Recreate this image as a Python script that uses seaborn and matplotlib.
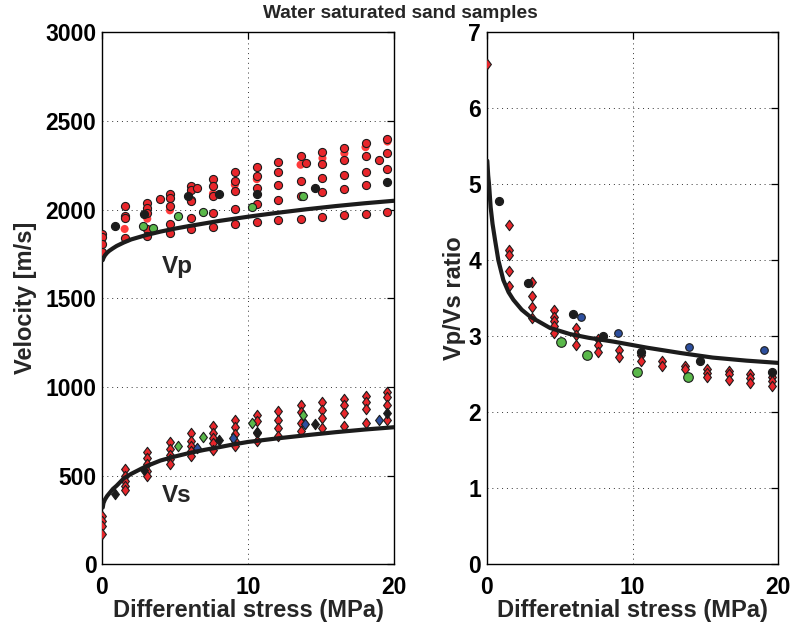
import numpy as np
import pandas as pd
import matplotlib
matplotlib.use("Agg")
import matplotlib.pyplot as plt
from matplotlib.path import Path
import seaborn as sns

# ---------------- data ----------------
stress_cols = [0.0, 1.55, 3.1, 4.65, 6.1, 7.6, 9.1, 10.6, 12.05, 13.6, 15.1, 16.6, 18.05, 19.55]

# Vp (circles) – red samples with edge
vp_red = [
    [1865, 1846, 1809, 1762],
    [2019, 1966, 1953, 1841],
    [2037, 2009, 1981, 1888, 1850],
    [2090, 2066, 2019, 1921, 1869],
    [2135, 2109, 2056, 2047, 1953, 1888],
    [2174, 2131, 2075, 1981, 1903],
    [2210, 2163, 2103, 2006, 1919],
    [2238, 2191, 2122, 2032, 1929],
    [2268, 2210, 2140, 2056, 1940],
    [2300, 2159, 2075, 1949],
    [2324, 2258, 2178, 2097, 1959],
    [2350, 2281, 2197, 2116, 1968],
    [2375, 2300, 2213, 2137, 1978],
    [2397, 2318, 2228, 1987],
]
vp_red_extra_x = [4.0, 6.5, 14.0, 19.0]
vp_red_extra = [2062, 2122, 2262, 2281]
# Vp – bright red without edge
vp_light_x = [0.0, 1.55, 3.1, 4.65, 7.6, 9.1, 10.6, 13.6, 15.1, 16.6, 18.05, 19.55]
vp_light = [1828, 1891, 1949, 1996, 2090, 2140, 2172, 2253, 2290, 2318, 2352, 2384]
vp_black_x = [0.9, 2.9, 5.9, 8.0, 10.6, 14.6, 19.55]
vp_black = [1906, 1976, 2075, 2088, 2088, 2122, 2155]
vp_green_x = [2.8, 3.5, 5.2, 6.9, 10.3, 13.75]
vp_green = [1910, 1897, 1966, 1985, 2015, 2075]

# Vs (diamonds)
vs_red = [
    [271, 242, 214, 171],
    [537, 500, 468, 440, 417],
    [632, 600, 566, 524, 500],
    [688, 650, 618, 594, 566],
    [741, 697, 669, 637, 613],
    [778, 741, 712, 684, 647],
    [812, 773, 737, 697, 669],
    [844, 806, 741, 694],
    [867, 816, 769, 722],
    [897, 859, 797, 750],
    [915, 872, 825, 769],
    [932, 900, 853, 782],
    [951, 915, 876, 797],
    [972, 942, 900, 812],
]
vs_black_x = [0.9, 2.9, 8.0, 10.6, 14.6, 19.55]
vs_black = [396, 530, 699, 744, 791, 853]
vs_green_x = [5.2, 6.9, 10.3, 13.75]
vs_green = [669, 716, 797, 844]
vs_blue_x = [6.5, 9.0, 13.9, 19.0]
vs_blue = [654, 710, 791, 812]

# Vp/Vs ratio
ratio_red = [
    [6.58],
    [4.47, 4.13, 4.07, 3.86, 3.66],
    [3.71, 3.53, 3.39, 3.24],
    [3.34, 3.26, 3.20, 3.13, 3.04],
    [3.11, 3.02, 2.89],
    [2.96, 2.88, 2.80],
    [2.82, 2.73],
    [2.75, 2.67],
    [2.67, 2.61],
    [2.61, 2.57],
    [2.57, 2.52, 2.47],
    [2.54, 2.50, 2.43],
    [2.50, 2.45, 2.39],
    [2.47, 2.41, 2.35],
]
ratio_black_x = [0.87, 2.86, 5.9, 8.0, 10.6, 14.6, 19.6]
ratio_black = [4.78, 3.70, 3.29, 3.00, 2.80, 2.68, 2.53]
ratio_blue_x = [6.5, 9.0, 13.9, 19.0]
ratio_blue = [3.26, 3.04, 2.86, 2.82]
ratio_green_x = [5.1, 6.9, 10.3, 13.8]
ratio_green = [2.93, 2.76, 2.53, 2.46]

# fitted trend curves
fit_x = [0.05, 0.1, 0.2, 0.35, 0.5, 0.75, 1, 1.5, 2, 3, 4, 5, 6, 7, 8, 9, 10, 12, 14, 16, 18, 20]
vp_fit = [1715, 1727, 1742, 1757, 1768, 1782, 1795, 1815, 1832, 1856, 1876, 1893, 1908,
          1922, 1936, 1948, 1960, 1982, 2002, 2020, 2036, 2050]
vs_fit = [320, 345, 365, 385, 400, 425, 443, 485, 510, 552, 585, 608, 628, 645, 660, 676,
          690, 710, 728, 745, 760, 773]
ratio_fit_x = [0.04, 0.1, 0.16, 0.27, 0.4, 0.57, 0.8, 1.14, 1.5, 1.83, 2.4, 2.97, 4.34, 5.7,
               7.0, 8.7, 11.0, 13.3, 15.5, 17.8, 20.0]
ratio_fit = [5.31, 5.12, 5.0, 4.70, 4.48, 4.27, 4.0, 3.74, 3.58, 3.48, 3.35, 3.26, 3.11, 3.03,
             2.98, 2.93, 2.85, 2.78, 2.72, 2.68, 2.65]

title = "Water saturated sand samples"
left_xlabel = "Differential stress (MPa)"
right_xlabel = "Differetnial stress (MPa)"
left_ylabel = "Velocity [m/s]"
right_ylabel = "Vp/Vs ratio"

RED = "#e8262b"
LIGHT = "#ff3b3b"
BLACK = "#1c1c1c"
GREEN = "#5ab84a"
BLUE = "#2d4f9e"

# MATLAB-like diamond: a bit taller than wide
DIAMOND = Path([(0, 1), (0.75, 0), (0, -1), (-0.75, 0), (0, 1)],
               [Path.MOVETO, Path.LINETO, Path.LINETO, Path.LINETO, Path.CLOSEPOLY])


def flatten(cols, groups):
    xs, ys = [], []
    for x, g in zip(cols, groups):
        for v in g:
            xs.append(x)
            ys.append(v)
    return pd.DataFrame({"x": xs, "y": ys})


sns.set_style("white")
FONT = ["Liberation Sans", "DejaVu Sans"]
plt.rcParams["font.family"] = FONT
plt.rcParams["font.weight"] = "bold"

fig = plt.figure(figsize=(7.93, 6.28), dpi=100)
axL = fig.add_axes([102 / 793, 1 - 564.3 / 628, 292 / 793, 532 / 628])
axR = fig.add_axes([486.7 / 793, 1 - 564.3 / 628, 291.6 / 793, 532 / 628])


def style_axes(ax):
    for s in ax.spines.values():
        s.set_color("black")
        s.set_linewidth(1.0)
        s.set_visible(True)
    ax.tick_params(direction="in", length=5, width=0.9, top=True, right=True,
                   labelsize=16.5, colors="black")
    ax.tick_params(axis="x", pad=8.5)
    ax.tick_params(axis="y", pad=4)
    for lab in ax.get_xticklabels() + ax.get_yticklabels():
        lab.set_fontweight("bold")
    ax.grid(True, linestyle=(0, (1, 4)), color="#333333", linewidth=0.7)
    ax.set_axisbelow(True)


CS = 34   # circle size
DS = 56   # diamond size
EW = 0.8

# ---- left: velocities ----
df_vp_red = flatten(stress_cols, vp_red)
df_vp_red = pd.concat([df_vp_red, pd.DataFrame({"x": vp_red_extra_x, "y": vp_red_extra})])
sns.scatterplot(data=pd.DataFrame({"x": vp_light_x, "y": vp_light}), x="x", y="y", ax=axL,
                color=LIGHT, s=CS, marker="o", edgecolor="none", linewidth=0, zorder=3)
sns.scatterplot(data=df_vp_red, x="x", y="y", ax=axL, color=RED, s=CS, marker="o",
                edgecolor=BLACK, linewidth=EW, zorder=3)
sns.scatterplot(data=pd.DataFrame({"x": vp_green_x, "y": vp_green}), x="x", y="y", ax=axL,
                color=GREEN, s=CS, marker="o", edgecolor=BLACK, linewidth=EW, zorder=3)
sns.scatterplot(data=pd.DataFrame({"x": vp_black_x, "y": vp_black}), x="x", y="y", ax=axL,
                color=BLACK, s=CS, marker="o", edgecolor=BLACK, linewidth=EW, zorder=3)

sns.scatterplot(data=flatten(stress_cols, vs_red), x="x", y="y", ax=axL, color=RED, s=DS,
                marker=DIAMOND, edgecolor=BLACK, linewidth=EW, zorder=3)
for xs, ys, c in [(vs_green_x, vs_green, GREEN), (vs_blue_x, vs_blue, BLUE),
                  (vs_black_x, vs_black, BLACK)]:
    sns.scatterplot(data=pd.DataFrame({"x": xs, "y": ys}), x="x", y="y", ax=axL, color=c,
                    s=DS, marker=DIAMOND, edgecolor=BLACK, linewidth=EW, zorder=3)

sns.lineplot(data=pd.DataFrame({"x": fit_x, "y": vp_fit}), x="x", y="y", ax=axL,
             color=BLACK, linewidth=3.0, sort=False, estimator=None, zorder=4)
sns.lineplot(data=pd.DataFrame({"x": fit_x, "y": vs_fit}), x="x", y="y", ax=axL,
             color=BLACK, linewidth=3.0, sort=False, estimator=None, zorder=4)

axL.set_xlim(0, 20)
axL.set_ylim(0, 3000)
axL.set_xticks([0, 10, 20])
axL.set_yticks(np.arange(0, 3001, 500))
style_axes(axL)
axL.text(4.1, 1642, "Vp", fontsize=17.5, fontweight="bold", ha="left", va="baseline")
axL.text(4.1, 353, "Vs", fontsize=17.5, fontweight="bold", ha="left", va="baseline")
axL.set_xlabel(left_xlabel, fontsize=17, fontweight="bold", va="top")
axL.xaxis.set_label_coords(0.5, -0.066)
axL.set_ylabel(left_ylabel, fontsize=17, fontweight="bold", va="center")
axL.yaxis.set_label_coords(-0.262, 0.5)

# ---- right: ratio ----
sns.scatterplot(data=flatten(stress_cols, ratio_red), x="x", y="y", ax=axR, color=RED, s=DS,
                marker=DIAMOND, edgecolor=BLACK, linewidth=EW, zorder=3)
sns.scatterplot(data=pd.DataFrame({"x": ratio_black_x, "y": ratio_black}), x="x", y="y",
                ax=axR, color=BLACK, s=CS, marker="o", edgecolor=BLACK, linewidth=EW, zorder=3)
sns.scatterplot(data=pd.DataFrame({"x": ratio_blue_x, "y": ratio_blue}), x="x", y="y",
                ax=axR, color=BLUE, s=30, marker="o", edgecolor=BLACK, linewidth=EW, zorder=3)
sns.scatterplot(data=pd.DataFrame({"x": ratio_green_x, "y": ratio_green}), x="x", y="y",
                ax=axR, color=GREEN, s=48, marker="o", edgecolor=BLACK, linewidth=EW, zorder=3)
sns.lineplot(data=pd.DataFrame({"x": ratio_fit_x, "y": ratio_fit}), x="x", y="y", ax=axR,
             color=BLACK, linewidth=3.0, sort=False, estimator=None, zorder=4)

axR.set_xlim(0, 20)
axR.set_ylim(0, 7)
axR.set_xticks([0, 10, 20])
axR.set_yticks(np.arange(0, 8, 1))
style_axes(axR)
axR.set_xlabel(right_xlabel, fontsize=17, fontweight="bold", va="top")
axR.xaxis.set_label_coords(0.5, -0.066)
axR.set_ylabel(right_ylabel, fontsize=17, fontweight="bold", va="center")
axR.yaxis.set_label_coords(-0.109, 0.5)

fig.text(400 / 793, 1 - 14 / 628, title, fontsize=13.8, fontweight="bold",
         ha="center", va="center")

fig.savefig("out.png", dpi=100)
